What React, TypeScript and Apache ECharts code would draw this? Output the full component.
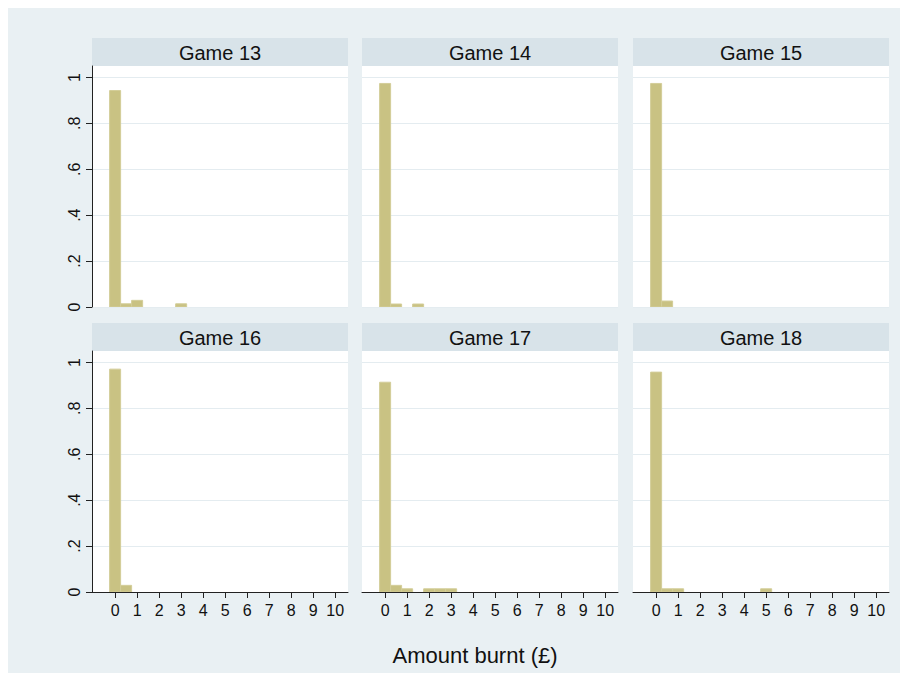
import React, { useEffect, useRef } from "react";
import * as echarts from "echarts";

// ---- data (fraction of players per £0.50 bin, keyed by bin centre) ----
const gameTitles = ["Game 13", "Game 14", "Game 15", "Game 16", "Game 17", "Game 18"];
const game13: [number, number][] = [[0, 0.943], [0.5, 0.014], [1, 0.029], [3, 0.014]];
const game14: [number, number][] = [[0, 0.974], [0.5, 0.013], [1.5, 0.013]];
const game15: [number, number][] = [[0, 0.974], [0.5, 0.026]];
const game16: [number, number][] = [[0, 0.971], [0.5, 0.029]];
const game17: [number, number][] = [[0, 0.914], [0.5, 0.029], [1, 0.014], [2, 0.014], [2.5, 0.014], [3, 0.014]];
const game18: [number, number][] = [[0, 0.958], [0.5, 0.014], [1, 0.014], [5, 0.014]];
const gameData = [game13, game14, game15, game16, game17, game18];
const binWidth = 0.5;
const xTicks = [0, 1, 2, 3, 4, 5, 6, 7, 8, 9, 10];
const yTicks = [0, 0.2, 0.4, 0.6, 0.8, 1];
const yTickLabels = ["0", ".2", ".4", ".6", ".8", "1"];
const xTitle = "Amount burnt (£)";

// ---- style / layout ----
const BG = "#e9f0f3";
const STRIP = "#d8e3e9";
const GRIDLINE = "#e4ecf0";
const BAR_FILL = "#c9c283";
const BAR_STROKE = "#d3cd98";
const FONT = "'Liberation Sans', Arial, sans-serif";
const colLefts = [84, 354, 625];
const plotW = 256;
const stripTops = [30, 315];
const stripH = 28;
const plotH = 241;

export default function App() {
  const ref = useRef<HTMLDivElement>(null);
  useEffect(() => {
    document.documentElement.style.overflow = "hidden";
    if (!ref.current) return;
    const chart = echarts.init(ref.current, undefined, { renderer: "svg" });

    const grids: any[] = [];
    const xAxes: any[] = [];
    const yAxes: any[] = [];
    const series: any[] = [];
    const graphics: any[] = [];

    gameData.forEach((data, i) => {
      const row = Math.floor(i / 3);
      const col = i % 3;
      const left = colLefts[col];
      const top = stripTops[row] + stripH;
      grids.push({
        left,
        top,
        width: plotW,
        height: plotH,
        show: true,
        backgroundColor: "#ffffff",
        borderWidth: 0,
        containLabel: false,
      });
      const bottomRow = row === 1;
      const leftCol = col === 0;
      xAxes.push({
        type: "value",
        gridIndex: i,
        min: -1.05,
        max: 10.58,
        axisLine: { show: bottomRow, onZero: false, lineStyle: { color: "#222", width: 1 } },
        axisTick: {
          show: bottomRow,
          customValues: xTicks,
          length: 6,
          lineStyle: { color: "#222", width: 1 },
        },
        axisLabel: {
          show: bottomRow,
          customValues: xTicks,
          margin: 10,
          fontSize: 16,
          color: "#111",
          fontFamily: FONT,
        },
        splitLine: { show: false },
      });
      yAxes.push({
        type: "value",
        gridIndex: i,
        min: 0,
        max: 1.05,
        interval: 0.2,
        axisLine: { show: leftCol, onZero: false, lineStyle: { color: "#222", width: 1 } },
        axisTick: {
          show: leftCol,
          customValues: yTicks,
          length: 6,
          lineStyle: { color: "#222", width: 1 },
        },
        axisLabel: {
          show: leftCol,
          customValues: yTicks,
          rotate: 90,
          margin: 10,
          fontSize: 16,
          color: "#111",
          fontFamily: FONT,
          formatter: (v: number) => {
            const idx = yTicks.findIndex((t) => Math.abs(t - v) < 1e-6);
            return idx >= 0 ? yTickLabels[idx] : "";
          },
        },
        splitLine: { show: true, lineStyle: { color: GRIDLINE, width: 1.2 } },
      });
      series.push({
        type: "custom",
        xAxisIndex: i,
        yAxisIndex: i,
        data,
        clip: true,
        renderItem: (params: any, api: any) => {
          const c = api.value(0);
          const h = api.value(1);
          const p0 = api.coord([c - binWidth / 2, h]);
          const p1 = api.coord([c + binWidth / 2, 0]);
          return {
            type: "rect",
            shape: { x: p0[0], y: p0[1], width: p1[0] - p0[0], height: p1[1] - p0[1] },
            style: { fill: BAR_FILL, stroke: BAR_STROKE, lineWidth: 1 },
          };
        },
      });
      graphics.push({
        type: "rect",
        left,
        top: stripTops[row],
        shape: { width: plotW, height: stripH },
        style: { fill: STRIP },
        silent: true,
      });
      graphics.push({
        type: "text",
        x: left + plotW / 2,
        y: stripTops[row] + stripH / 2 + 1,
        style: {
          text: gameTitles[i],
          fontSize: 20,
          fontFamily: FONT,
          fill: "#111",
          align: "center",
          verticalAlign: "middle",
        },
        silent: true,
      });
    });

    graphics.push({
      type: "text",
      x: 467,
      y: 647,
      style: {
        text: xTitle,
        fontSize: 22,
        fontFamily: FONT,
        fill: "#111",
        align: "center",
        verticalAlign: "middle",
      },
      silent: true,
    });

    chart.setOption({
      animation: false,
      backgroundColor: BG,
      grid: grids,
      xAxis: xAxes,
      yAxis: yAxes,
      series,
      graphic: graphics,
    });

    return () => {
      chart.dispose();
    };
  }, []);

  return <div ref={ref} style={{ width: 900, height: 665 }} />;
}
